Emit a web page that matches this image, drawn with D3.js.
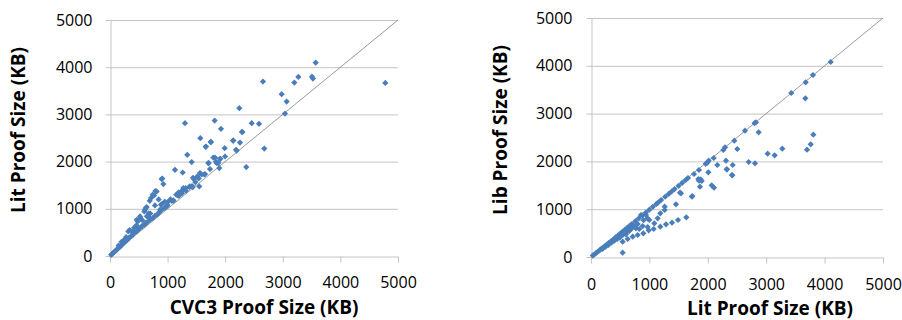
<!DOCTYPE html>
<html>
<head>
<meta charset="utf-8">
<script src="https://cdn.jsdelivr.net/npm/d3@7"></script>
<style>
  body { margin: 0; background: #fff; }
  svg text { font-family: "Open Sans", "Liberation Sans", sans-serif; fill: #000; }
  .grid line { stroke: #c4c4c4; stroke-width: 1; }
  .axis path, .axis line { stroke: #c4c4c4; stroke-width: 1; }
  .axis text { font-size: 16px; }
  .title { font-size: 19px; font-weight: bold; }
</style>
</head>
<body>
<svg id="chart" width="902" height="320"></svg>
<script>
// ---- data (KB) ----
const tickValues = [0, 1000, 2000, 3000, 4000, 5000];

// left plot: CVC3 proof size vs Lit proof size
const cvc3Kb = [
  20, 40, 60, 80, 100, 120, 140, 160, 180, 200, 220, 250, 270, 300, 320, 350, 380, 400, 420, 450,
  480, 500, 530, 560, 600, 620, 650, 700, 740, 780, 820, 860, 900, 950, 1000, 1100, 1200, 1250,
  250, 280, 200, 150, 420, 460, 560, 640, 700, 900, 950, 1050, 1150,
  342, 318, 387, 481, 527, 463, 521, 608, 637, 619, 596, 672, 694, 689, 712, 741, 764, 787, 781,
  810, 845, 868, 885, 897, 908, 926, 984, 1012, 1071, 1099, 1128, 1181, 1192, 1238, 1262, 1273,
  1302, 1314, 1319, 1342, 1377, 1389, 1418, 1424, 1435, 1441, 1458, 1481, 1516, 1540, 1550, 1563,
  1568, 1592, 1637, 1649, 1661, 1667, 1707, 1713, 1736, 1748, 1753, 1794, 1817, 1823, 1840, 1852,
  1880, 1898, 1910, 1915, 1927, 1991, 1997, 2135, 2141, 2188, 2199, 2245, 2257, 2292, 2297, 2366,
  2460, 2587, 2656, 2679, 2980, 3038, 3067, 3200, 3270, 3507, 3524, 3571, 4780
];
const litKbA = [
  25, 45, 70, 95, 110, 140, 160, 185, 200, 235, 250, 290, 310, 340, 380, 400, 430, 470, 490, 510,
  540, 580, 600, 640, 660, 700, 720, 770, 800, 850, 880, 930, 980, 1020, 1080, 1180, 1280, 1330,
  350, 400, 300, 220, 600, 650, 760, 840, 900, 1100, 1150, 1200, 1300,
  550, 521, 521, 732, 804, 768, 838, 980, 1037, 1016, 944, 902, 804, 1170, 1227, 1297, 1283, 1375, 1071,
  1368, 1198, 980, 1085, 1630, 1642, 1524, 1050, 1155, 1170, 1170, 1826, 1276, 1346, 1368, 1769, 1439,
  2814, 1439, 1382, 2143, 1466, 1473, 1989, 1481, 1460, 1657, 1630, 1566, 1685, 1642, 1473, 1756,
  2497, 1727, 1727, 1735, 2313, 2320, 1968, 1968, 1841, 2419, 2412, 2086, 2870, 2086, 1995, 1968,
  1968, 1862, 2059, 2059, 2694, 2285, 2108, 2446, 2446, 2249, 2234, 3131, 2404, 2630, 2624, 1883,
  2814, 2800, 3696, 2277, 3428, 3017, 3272, 3674, 3794, 3800, 3758, 4096, 3667
];

// right plot: Lit proof size vs Lib proof size
const litKbB = [
  30, 60, 90, 120, 150, 180, 210, 240, 270, 300, 340, 380, 420, 460, 500, 540, 580, 620, 660, 700,
  760, 820, 880, 940, 1000, 1060, 1120, 1150, 1200, 1270, 1330, 1380, 1430, 1500, 1560, 1620, 1661,
  1764, 1849, 1964, 1992, 2101, 2266, 2295, 2454, 2637, 2800, 2825, 3430, 3676, 3801, 4104,
  200, 250, 300, 350, 400, 450, 500, 550, 600, 650, 700, 750, 800, 900,
  542, 628, 714, 799, 896, 988, 1073, 1187, 1284, 1387, 1490, 1632, 542,
  485, 599, 656, 770, 827, 856, 885, 942, 970, 970, 998, 1084, 1142, 1187, 1262, 1262, 1455,
  1524, 1541, 1729, 1735, 1838, 1849, 1866, 1878, 1896, 2009, 2015, 2067, 2106, 2163, 2312, 2323,
  2329, 2414, 2420, 2426, 2505, 2700, 2808, 2871, 3025, 3145, 3276, 3670, 3699, 3762, 3807
];
const libKb = [
  30, 55, 85, 115, 145, 175, 200, 230, 260, 290, 330, 365, 410, 450, 490, 530, 570, 610, 650, 690,
  750, 810, 870, 930, 990, 1050, 1110, 1140, 1190, 1260, 1320, 1370, 1420, 1490, 1550, 1610, 1653,
  1736, 1820, 1950, 1973, 2071, 2238, 2295, 2433, 2643, 2800, 2818, 3431, 3654, 3808, 4079,
  170, 215, 255, 300, 340, 380, 420, 470, 510, 560, 600, 640, 690, 770,
  321, 377, 425, 460, 496, 559, 586, 634, 684, 718, 774, 830, 90,
  404, 475, 544, 600, 586, 879, 648, 879, 809, 627, 774, 704, 809, 914, 1052, 983, 1102,
  1345, 1333, 1262, 1276, 1632, 1596, 1471, 1625, 1590, 1771, 2015, 1500, 1450, 1925, 2015, 1835,
  1835, 1715, 1709, 1925, 2259, 1987, 1960, 2609, 2161, 2128, 2266, 3320, 2245, 2358, 2559
];

const svg = d3.select('#chart');
const fmt = d3.format('d');

// one scatter panel
function drawPanel(opts) {
  const x = d3.scaleLinear().domain([0, 5000]).range([opts.left, opts.right]);
  const y = d3.scaleLinear().domain([0, 5000]).range([opts.bottom, opts.top]);
  const g = svg.append('g');

  // horizontal gridlines
  g.append('g').attr('class', 'grid')
    .selectAll('line')
    .data(tickValues.slice(1))
    .join('line')
    .attr('x1', x(0)).attr('x2', x(5000))
    .attr('y1', (d) => y(d) + 0.5).attr('y2', (d) => y(d) + 0.5);

  // axes
  g.append('g').attr('class', 'axis')
    .attr('transform', `translate(0,${opts.bottom + 0.5})`)
    .call(d3.axisBottom(x).tickValues(tickValues).tickFormat(fmt)
      .tickSize(6).tickSizeOuter(0).tickPadding(opts.xPad));
  g.append('g').attr('class', 'axis')
    .attr('transform', `translate(${opts.left + 0.5},0)`)
    .call(d3.axisLeft(y).tickValues(tickValues).tickFormat(fmt)
      .tickSize(5).tickSizeOuter(0).tickPadding(opts.yPad));
  g.selectAll('.axis text').attr('font-family', null).attr('font-size', null);

  // y = x reference line
  g.append('line')
    .attr('x1', x(0)).attr('y1', y(0))
    .attr('x2', x(5000)).attr('y2', y(5000))
    .attr('stroke', '#808080').attr('stroke-width', 0.8);

  // diamond markers
  const pts = opts.xs.map((v, i) => [v, opts.ys[i]]);
  const r = 3.1;
  g.append('g').selectAll('path')
    .data(pts)
    .join('path')
    .attr('d', (d) => {
      const cx = x(d[0]), cy = y(d[1]);
      return `M${cx},${cy - r}L${cx + r},${cy}L${cx},${cy + r}L${cx - r},${cy}Z`;
    })
    .attr('fill', '#4a7ebb');

  // axis titles
  g.append('text').attr('class', 'title')
    .attr('x', opts.xTitle[0]).attr('y', opts.xTitle[1])
    .attr('text-anchor', 'middle').attr('dy', '0.35em')
    .text(opts.xLabel);
  g.append('text').attr('class', 'title')
    .attr('transform', `translate(${opts.yTitle[0]},${opts.yTitle[1]}) rotate(-90)`)
    .attr('text-anchor', 'middle').attr('dy', '0.35em')
    .text(opts.yLabel);
}

drawPanel({
  left: 110, right: 398, top: 20, bottom: 256,
  xPad: 14, yPad: 13,
  xs: cvc3Kb, ys: litKbA,
  xLabel: 'CVC3 Proof Size (KB)', yLabel: 'Lit Proof Size (KB)',
  xTitle: [264, 307], yTitle: [18, 130]
});

drawPanel({
  left: 591, right: 883, top: 18, bottom: 257,
  xPad: 15, yPad: 14,
  xs: litKbB, ys: libKb,
  xLabel: 'Lit Proof Size (KB)', yLabel: 'Lib Proof Size (KB)',
  xTitle: [770, 308], yTitle: [500, 130]
});
</script>
</body>
</html>
